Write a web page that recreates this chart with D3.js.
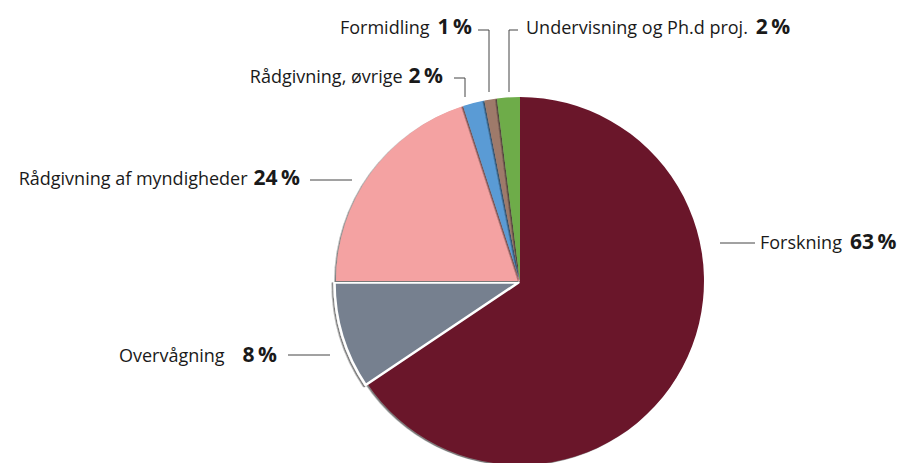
<!DOCTYPE html>
<html>
<head>
<meta charset="utf-8">
<script src="https://cdn.jsdelivr.net/npm/d3@7"></script>
<style>
  body { margin: 0; background: #fff; }
  svg { display: block; }
</style>
</head>
<body>
<div id="chart"></div>
<script>
const categories = ["Forskning", "Overvågning", "Rådgivning af myndigheder", "Rådgivning, øvrige", "Formidling", "Undervisning og Ph.d proj."];
const values = [65.6, 9.4, 20.0, 1.9, 1.1, 2.0];
const pctLabels = ["63\u2009%", "8\u2009%", "24\u2009%", "2\u2009%", "1\u2009%", "2\u2009%"];
const colors = ["#6b172c", "#76808f", "#f4a2a2", "#5a9bd5", "#9e7a6b", "#6eac4a"];

const width = 897, height = 463;
const cx = 520, cy = 281, radius = 184;

// where each label sits (anchor, baseline, gap name->pct, leader line)
const labelLayout = [
  { x: 760, y: 249, anchor: "start", gap: 8, line: [[720, 243], [755, 243]] },
  { x: 277, y: 362, anchor: "end", gap: 18, line: [[288, 355], [330, 355]] },
  { x: 300, y: 185, anchor: "end", gap: 6, line: [[310, 180], [352, 180]] },
  { x: 443, y: 83, anchor: "end", gap: 6, line: [[454, 78], [465, 78], [465, 97]] },
  { x: 472, y: 34, anchor: "end", gap: 8, line: [[478, 30], [489, 30], [489, 92]] },
  { x: 526, y: 34, anchor: "start", gap: 8, line: [[518, 30], [509, 30], [509, 92]] }
];

const svg = d3.select("#chart").append("svg")
  .attr("width", width)
  .attr("height", height);

const defs = svg.append("defs");
defs.append("filter")
  .attr("id", "shadow")
  .attr("x", "-10%").attr("y", "-10%")
  .attr("width", "120%").attr("height", "120%")
  .append("feDropShadow")
  .attr("dx", -1.5).attr("dy", 1)
  .attr("stdDeviation", 0.6)
  .attr("flood-color", "#222")
  .attr("flood-opacity", 0.6);

const pie = d3.pie().sort(null).value(d => d)(values);
const arc = d3.arc().innerRadius(0).outerRadius(radius);

const g = svg.append("g").attr("transform", "translate(" + cx + "," + cy + ")");

g.selectAll("path")
  .data(pie)
  .enter().append("path")
    .attr("d", arc)
    .attr("fill", (d, i) => colors[i])
    .attr("filter", "url(#shadow)")
    .attr("transform", (d, i) => i == 1 ? "translate(-1.5,1.5)" : null)
    .attr("stroke", (d, i) => i == 1 ? "#fff" : "none")
    .attr("stroke-width", 2.5)
    .attr("stroke-linejoin", "round");

// leader lines
const line = d3.line();
svg.append("g")
  .selectAll("path")
  .data(labelLayout)
  .enter().append("path")
    .attr("d", d => line(d.line))
    .attr("fill", "none")
    .attr("stroke", "#444")
    .attr("stroke-width", 1);

// labels
labelLayout.forEach((l, i) => {
  const t = svg.append("text")
    .attr("x", l.x)
    .attr("y", l.y)
    .attr("text-anchor", l.anchor)
    .attr("font-family", "'Open Sans', 'Noto Sans', sans-serif")
    .attr("fill", "#1a1a1a");
  t.append("tspan")
    .attr("font-size", "18px")
    .text(categories[i]);
  t.append("tspan")
    .attr("dx", l.gap)
    .attr("font-size", "21px")
    .attr("font-weight", "bold")
    .text(pctLabels[i]);
});
</script>
</body>
</html>
